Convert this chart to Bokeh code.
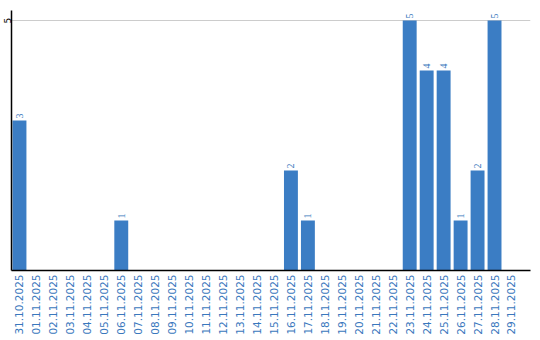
import math
import numpy as np
from bokeh.plotting import figure
from bokeh.models import ColumnDataSource, Range1d, FixedTicker, LabelSet
from bokeh.embed import file_html
from bokeh.resources import INLINE

dates = ["31.10.2025", "01.11.2025", "02.11.2025", "03.11.2025", "04.11.2025",
         "05.11.2025", "06.11.2025", "07.11.2025", "08.11.2025", "09.11.2025",
         "10.11.2025", "11.11.2025", "12.11.2025", "13.11.2025", "14.11.2025",
         "15.11.2025", "16.11.2025", "17.11.2025", "18.11.2025", "19.11.2025",
         "20.11.2025", "21.11.2025", "22.11.2025", "23.11.2025", "24.11.2025",
         "25.11.2025", "26.11.2025", "27.11.2025", "28.11.2025", "29.11.2025"]
counts = [3, 0, 0, 0, 0, 0, 1, 0, 0, 0,
          0, 0, 0, 0, 0, 0, 2, 1, 0, 0,
          0, 0, 0, 5, 4, 4, 1, 2, 5, 0]
y_ticks = [5]

BLUE = "#3b7dc4"
LABEL_BLUE = "#3a78bd"

xs = list(range(len(dates)))
src = ColumnDataSource(dict(x=xs, y=counts, lbl=[str(c) if c > 0 else "" for c in counts]))

x_range = Range1d(-0.47, 30.12)
p = figure(width=540, height=340, output_backend="svg", toolbar_location=None,
           x_range=x_range, y_range=Range1d(0, 5.2),
           min_border_left=0, min_border_right=10, min_border_top=10, min_border_bottom=70)
p.outline_line_color = None
p.background_fill_color = "white"
p.border_fill_color = "white"

p.vbar(x="x", top="y", width=0.82, source=src, color=BLUE, line_color=None)

labels = LabelSet(x="x", y="y", text="lbl", source=src, angle=math.pi / 2,
                  text_align="left", text_baseline="middle", y_offset=2,
                  text_font_size="10px", text_color=LABEL_BLUE, text_font="DejaVu Sans")
p.add_layout(labels)

p.xgrid.grid_line_color = None
p.ygrid.grid_line_color = "#cccccc"
p.ygrid.ticker = FixedTicker(ticks=y_ticks)

p.xaxis.ticker = FixedTicker(ticks=xs)
p.xaxis.major_label_overrides = {i: d for i, d in enumerate(dates)}
p.xaxis.major_label_orientation = math.pi / 2
p.xaxis.major_label_text_color = LABEL_BLUE
p.xaxis.major_label_text_font = "DejaVu Sans"
p.xaxis.major_label_text_font_size = "10.5px"
p.xaxis.major_tick_line_color = None
p.xaxis.minor_tick_line_color = None
p.xaxis.major_tick_out = 0
p.xaxis.major_tick_in = 0
p.xaxis.major_label_standoff = 4
p.xaxis.axis_line_color = "black"
p.xaxis.axis_line_width = 1.5

p.yaxis.ticker = FixedTicker(ticks=y_ticks)
p.yaxis.major_label_orientation = "parallel"
p.yaxis.major_label_text_color = "black"
p.yaxis.major_label_text_font = "DejaVu Sans"
p.yaxis.major_label_text_font_size = "9px"
p.yaxis.major_tick_line_color = None
p.yaxis.minor_tick_line_color = None
p.yaxis.major_tick_out = 0
p.yaxis.major_tick_in = 0
p.yaxis.major_label_standoff = 1
p.yaxis.axis_line_color = "black"
p.yaxis.axis_line_width = 1.5

open("out.html", "w").write(file_html(p, INLINE))
